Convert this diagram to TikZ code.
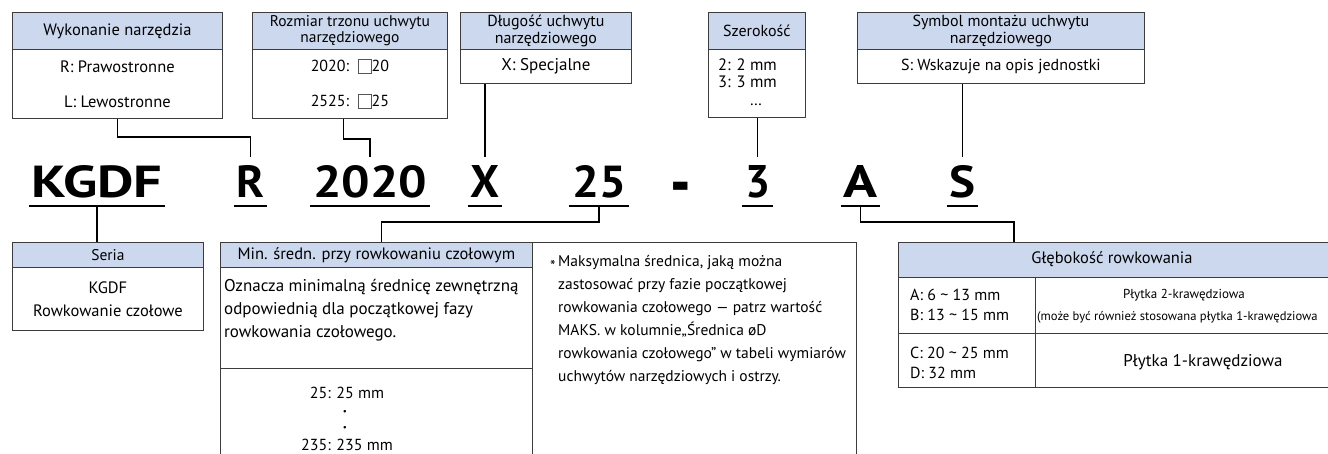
\documentclass[tikz,border=0pt]{standalone}
\usepackage{fontspec}
\usepackage{graphicx}
\setmainfont{PT Sans}
\definecolor{hdrc}{HTML}{CCD8EE}
\definecolor{bordc}{HTML}{3C3C3C}
\definecolor{sqc}{HTML}{555555}
\newcommand\codet[2]{\resizebox{#1pt}{32pt}{\bfseries #2}}
\newcommand\sqbox{\raisebox{-1.5pt}{\setlength\fboxsep{0pt}\setlength\fboxrule{0.7pt}\fcolorbox{sqc}{white}{\rule{0pt}{12.5pt}\hspace{12.5pt}}}}
\tikzset{
 hdr/.style={draw=bordc, fill=hdrc, line width=0.8pt, inner sep=0pt, anchor=north west, align=center},
 cell/.style={draw=bordc, fill=white, line width=0.8pt, inner sep=0pt, anchor=north west, align=center},
 conn/.style={line width=1.5pt, draw=black},
 uline/.style={line width=2pt, draw=black},
 code/.style={inner sep=0pt, minimum height=49pt},
 plain/.style={inner sep=0pt},
}
\begin{document}
\begin{tikzpicture}[x=1pt,y=-1pt]
\useasboundingbox (0,0) rectangle (1328,454);
\clip (0,0) rectangle (1328,454);
\fill[white] (0,0) rectangle (1328,454);
% ---------- top boxes
\node[hdr, minimum width=210pt, minimum height=37pt, font=\fontsize{16.5}{18}\selectfont] (h1) at (12,12) {Wykonanie narzędzia};
\node[cell, minimum width=210pt, minimum height=69pt, font=\fontsize{16.5}{35}\selectfont] (b1) at (12,49) {R: Prawostronne\\L: Lewostronne};
\node[hdr, minimum width=195pt, minimum height=37pt, font=\fontsize{15.5}{16.5}\selectfont] (h2) at (252,12) {Rozmiar trzonu uchwytu\\narzędziowego};
\node[cell, minimum width=195pt, minimum height=69pt, font=\fontsize{16}{35}\selectfont] (b2) at (252,49) {2020:\ \ \sqbox20\\2525:\ \ \sqbox25};
\node[hdr, minimum width=171pt, minimum height=37pt, font=\fontsize{16}{16.5}\selectfont] (h3) at (460,12) {Długość uchwytu\\narzędziowego};
\node[cell, minimum width=171pt, minimum height=34pt, font=\fontsize{17}{18}\selectfont] (b3) at (460,49) {X: Specjalne};
\node[hdr, minimum width=97pt, minimum height=37pt, font=\fontsize{16}{18}\selectfont] (h4) at (708,12) {Szerokość};
\node[cell, minimum width=97pt, minimum height=68pt] (b4) at (708,49) {};
\node[plain, anchor=west, align=left, font=\fontsize{16.5}{17}\selectfont] (b4t) at (718,73.5) {2: 2 mm\\3: 3 mm};
\node[plain, font=\fontsize{16}{17}\selectfont] (b4d) at (756,105) {…};
\node[hdr, minimum width=287pt, minimum height=37pt, font=\fontsize{16}{16.5}\selectfont] (h5) at (857,12) {Symbol montażu uchwytu\\narzędziowego};
\node[cell, minimum width=287pt, minimum height=34pt, font=\fontsize{16}{18}\selectfont] (b5) at (857,49) {S: Wskazuje na opis jednostki};
% ---------- code
\node[code, minimum width=136pt] (kgdf) at (97,181.5) {\codet{131}{KGDF}};
\node[code, minimum width=33pt] (cr) at (250.5,181.5) {\codet{28}{R}};
\node[code, minimum width=120pt] (c2020) at (370,181.5) {\codet{114}{2020}};
\node[code, minimum width=34pt] (cx) at (485,181.5) {\codet{29}{X}};
\node[code, minimum width=60pt] (c25) at (599,181.5) {\codet{54}{25}};
\node[plain, anchor=base, font=\fontsize{44}{44}\selectfont\bfseries] (cdash) at (681,207) {\scalebox{1.3}[1.6]{-}};
\node[code, minimum width=31pt] (c3) at (757.5,181.5) {\codet{25}{3}};
\node[code, minimum width=39pt] (ca) at (860.5,181.5) {\codet{34}{A}};
\node[code, minimum width=31pt] (cs) at (962.5,181.5) {\codet{26}{S}};
\foreach \n in {kgdf,cr,c2020,cx,c25,c3,ca,cs} \draw[uline] (\n.south west) -- (\n.south east);
% ---------- top connectors
\draw[conn] (b1.south) -- ++(0,18) -| (cr.north);
\draw[conn] ([xshift=-6.5pt]b2.south) -- ++(0,20) -| (c2020.north);
\draw[conn] (cx.north |- b3.south) -- (cx.north);
\draw[conn] (c3.north |- b4.south) -- (c3.north);
\draw[conn] (cs.north |- b5.south) -- (cs.north);
% ---------- bottom: Seria
\node[hdr, minimum width=191pt, minimum height=25pt, font=\fontsize{15.5}{18}\selectfont] (sh) at (12,242) {Seria};
\node[cell, minimum width=191pt, minimum height=63pt, font=\fontsize{16.5}{23}\selectfont] (sb) at (12,267) {KGDF\\Rowkowanie czołowe};
\draw[conn] (kgdf.south) -- (kgdf.south |- sh.north);
% ---------- Min
\node[hdr, minimum width=312pt, minimum height=25pt, font=\fontsize{16.5}{18}\selectfont] (mh) at (220,242) {Min. średn. przy rowkowaniu czołowym};
\node[cell, minimum width=312pt, minimum height=101pt] (md) at (220,267) {};
\node[cell, minimum width=312pt, minimum height=100pt] (mv) at (220,368) {};
\node[plain, anchor=west, align=left, font=\fontsize{17}{23}\selectfont] (mdt) at (224,310) {Oznacza minimalną średnicę zewnętrzną\\odpowiednią dla początkowej fazy\\rowkowania czołowego.};
\node[plain, font=\fontsize{16}{18}\selectfont] (mv1) at (347,393) {25: 25 mm};
\node[plain, font=\fontsize{9}{9}\selectfont] (mvd1) at (345,412) {•};
\node[plain, font=\fontsize{9}{9}\selectfont] (mvd2) at (345,428) {•};
\node[plain, font=\fontsize{16}{18}\selectfont] (mv2) at (347,445) {235: 235 mm};
\draw[conn] (c25.south) -- ++(0,16) -| ([xshift=5pt]mh.north);
% ---------- note
\node[cell, minimum width=324pt, minimum height=230pt] (nb) at (532,242) {};
\node[plain, anchor=west, align=left, font=\fontsize{15.5}{23}\selectfont] (nt) at (558,320.5) {\leavevmode\llap{\raisebox{-0.3em}{*}\,}Maksymalna średnica, jaką można\\zastosować przy fazie początkowej\\rowkowania czołowego — patrz wartość\\MAKS. w kolumnie„Średnica øD\\rowkowania czołowego” w tabeli wymiarów\\uchwytów narzędziowych i ostrzy.};
% ---------- Glebokosc
\node[hdr, minimum width=432pt, minimum height=35pt] (gh) at (898,242) {};
\node[plain, font=\fontsize{16.5}{18}\selectfont] (ght) at (1112,259.5) {Głębokość rowkowania};
\node[cell, minimum width=137pt, minimum height=56pt] (r1a) at (898,277) {};
\node[cell, minimum width=295pt, minimum height=56pt] (r1b) at (1035,277) {};
\node[cell, minimum width=137pt, minimum height=54pt] (r2a) at (898,333) {};
\node[cell, minimum width=295pt, minimum height=54pt] (r2b) at (1035,333) {};
\node[plain, anchor=west, align=left, font=\fontsize{16}{20}\selectfont] (r1at) at (910,305) {A: 6 \textasciitilde{} 13 mm\\B: 13 \textasciitilde{} 15 mm};
\node[plain, font=\fontsize{13}{14}\selectfont] (r1bt) at (1184,295) {Płytka 2-krawędziowa};
\node[plain, anchor=west, font=\fontsize{12.6}{14}\selectfont] (r1bu) at (1037,317) {(może być również stosowana płytka 1-krawędziowa};
\node[plain, anchor=west, align=left, font=\fontsize{16}{20}\selectfont] (r2at) at (910,362.5) {C: 20 \textasciitilde{} 25 mm\\D: 32 mm};
\node[plain, font=\fontsize{17}{18}\selectfont] (r2bt) at (1203,362) {Płytka 1-krawędziowa};
\draw[conn] (ca.south) -- ++(0,16) -| ([xshift=116pt]gh.north west);
\end{tikzpicture}
\end{document}
